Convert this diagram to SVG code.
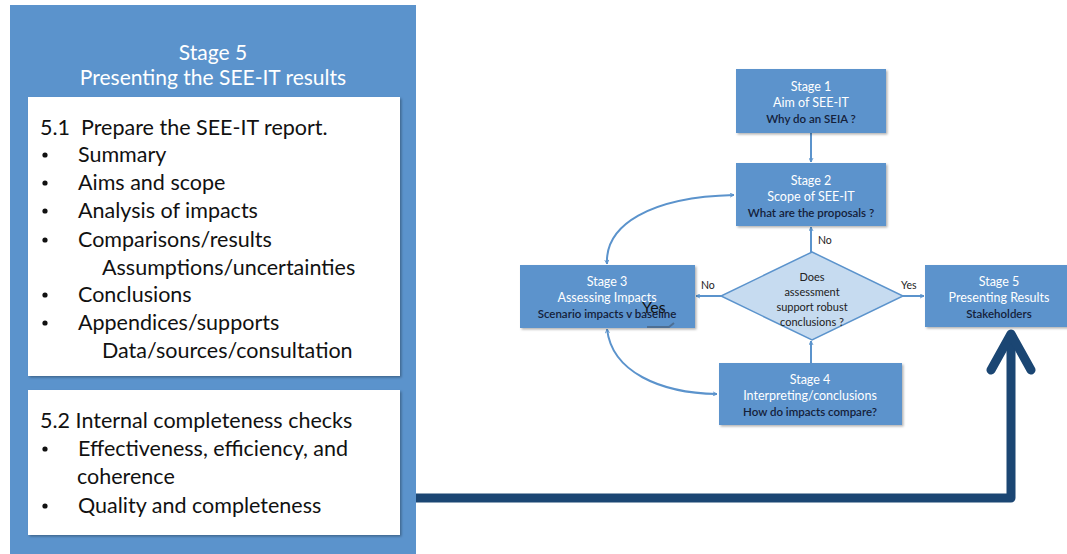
<svg xmlns="http://www.w3.org/2000/svg" width="1067" height="554" viewBox="0 0 1067 554">
<style>
.blue{fill:#5b93cc}
.white{fill:#ffffff}
.t{font-family:Lato,"Open Sans","Liberation Sans",sans-serif}
.title{font-size:21px;fill:#ffffff;text-anchor:middle}
.body{font-size:21.5px;fill:#111111}
.bul{fill:#111111}
.nh{font-size:12.5px;fill:#ffffff;text-anchor:middle}
.ns{font-size:11.5px;fill:#14213a;text-anchor:middle;font-weight:600}
.lbl{font-size:10.5px;fill:#222222}
.dt{font-size:11px;fill:#222222;text-anchor:middle}
.conn{fill:none;stroke:#5b93cc;stroke-width:2}
</style>
<defs>
<filter id="sh" x="-10%" y="-10%" width="130%" height="130%">
<feDropShadow dx="1.5" dy="1.5" stdDeviation="1" flood-color="#000" flood-opacity="0.3"/>
</filter>
<marker id="ah" viewBox="0 0 10 10" refX="9" refY="5" markerWidth="5" markerHeight="5" orient="auto-start-reverse" markerUnits="userSpaceOnUse">
<path d="M1,1 L9,5 L1,9" fill="none" stroke="#5b93cc" stroke-width="1.8"/>
</marker>
</defs>
<rect width="1067" height="554" fill="#ffffff"/>

<g id="stage5-panel">
<rect x="10" y="5" width="406" height="560" class="blue"/>
<text class="t title" x="213" y="60">Stage 5</text>
<text class="t title" x="213" y="85">Presenting the SEE-IT results</text>
</g>

<g id="box-5-1">
<rect x="28" y="97" width="372" height="279" class="white" filter="url(#sh)"/>
<text class="t body" x="40" y="135" xml:space="preserve">5.1  Prepare the SEE-IT report.</text>
<circle class="bul" cx="45" cy="155" r="2.6"/><text class="t body" x="78" y="162">Summary</text>
<circle class="bul" cx="45" cy="183" r="2.6"/><text class="t body" x="78" y="190">Aims and scope</text>
<circle class="bul" cx="45" cy="211" r="2.6"/><text class="t body" x="78" y="218">Analysis of impacts</text>
<circle class="bul" cx="45" cy="240" r="2.6"/><text class="t body" x="78" y="247">Comparisons/results</text>
<text class="t body" x="102" y="275">Assumptions/uncertainties</text>
<circle class="bul" cx="45" cy="295" r="2.6"/><text class="t body" x="78" y="302">Conclusions</text>
<circle class="bul" cx="45" cy="323" r="2.6"/><text class="t body" x="78" y="330">Appendices/supports</text>
<text class="t body" x="102" y="358">Data/sources/consultation</text>
</g>

<g id="box-5-2">
<rect x="28" y="390" width="372" height="145" class="white" filter="url(#sh)"/>
<text class="t body" x="40" y="428">5.2 Internal completeness checks</text>
<circle class="bul" cx="45" cy="449" r="2.6"/><text class="t body" x="78" y="456">Effectiveness, efficiency, and</text>
<text class="t body" x="77" y="484">coherence</text>
<circle class="bul" cx="45" cy="506" r="2.6"/><text class="t body" x="78" y="513">Quality and completeness</text>
</g>

<g id="connectors">
<line class="conn" x1="811" y1="133" x2="811" y2="162" marker-end="url(#ah)"/>
<line class="conn" x1="811" y1="252" x2="811" y2="227" marker-end="url(#ah)"/>
<line class="conn" x1="722" y1="296" x2="696" y2="296" marker-end="url(#ah)"/>
<line class="conn" x1="902" y1="296" x2="924" y2="296" marker-end="url(#ah)"/>
<line class="conn" x1="811" y1="363" x2="811" y2="341" marker-end="url(#ah)"/>
<path class="conn" d="M607,264 C605,225 650,197 734,195" marker-start="url(#ah)" marker-end="url(#ah)"/>
<path class="conn" d="M607,329 C612,372 660,393 717,394" marker-start="url(#ah)" marker-end="url(#ah)"/>
<path d="M416,498 L1011,498 L1011,334" fill="none" stroke="#1b4673" stroke-width="9" stroke-linejoin="round"/>
<path d="M991,370 L1011,334 L1031,370" fill="none" stroke="#1b4673" stroke-width="9" stroke-linecap="round" stroke-linejoin="round"/>
<text class="t lbl" x="818" y="244">No</text>
<text class="t lbl" x="701" y="289">No</text>
<text class="t lbl" x="901" y="289">Yes</text>
</g>

<g id="stage1">
<rect x="736" y="69" width="150" height="64" class="blue" filter="url(#sh)"/>
<text class="t nh" x="811" y="91">Stage 1</text>
<text class="t nh" x="811" y="107">Aim of SEE-IT</text>
<text class="t ns" x="811" y="123">Why do an SEIA ?</text>
</g>

<g id="stage2">
<rect x="736" y="163" width="150" height="63" class="blue" filter="url(#sh)"/>
<text class="t nh" x="811" y="185">Stage 2</text>
<text class="t nh" x="811" y="201">Scope of SEE-IT</text>
<text class="t ns" x="811" y="217">What are the proposals ?</text>
</g>

<g id="decision">
<polygon points="812,252 903,296 812,340 721,296" fill="#c6dbf0" stroke="#5b93cc" stroke-width="1.5"/>
<text class="t dt" x="812" y="281">Does</text>
<text class="t dt" x="812" y="296">assessment</text>
<text class="t dt" x="812" y="311">support robust</text>
<text class="t dt" x="812" y="326">conclusions ?</text>
</g>

<g id="stage3">
<rect x="520" y="265" width="175" height="63" class="blue" filter="url(#sh)"/>
<text class="t nh" x="607" y="286">Stage 3</text>
<text class="t nh" x="607" y="302">Assessing Impacts</text>
<text class="t ns" x="607" y="318">Scenario impacts v baseline</text>
<path d="M647,327 L669,327 L674,323" fill="none" stroke="#4d6f94" stroke-width="2"/>
<text class="t" x="642" y="313" font-size="16" fill="#111111">Yes</text>
</g>

<g id="stage4">
<rect x="719" y="363" width="183" height="62" class="blue" filter="url(#sh)"/>
<text class="t nh" x="810" y="384">Stage 4</text>
<text class="t nh" x="810" y="400">Interpreting/conclusions</text>
<text class="t ns" x="810" y="416">How do impacts compare?</text>
</g>

<g id="stage5-small">
<rect x="925" y="265" width="150" height="62" class="blue" filter="url(#sh)"/>
<text class="t nh" x="999" y="286">Stage 5</text>
<text class="t nh" x="999" y="302">Presenting Results</text>
<text class="t ns" x="999" y="318">Stakeholders</text>
</g>
</svg>
